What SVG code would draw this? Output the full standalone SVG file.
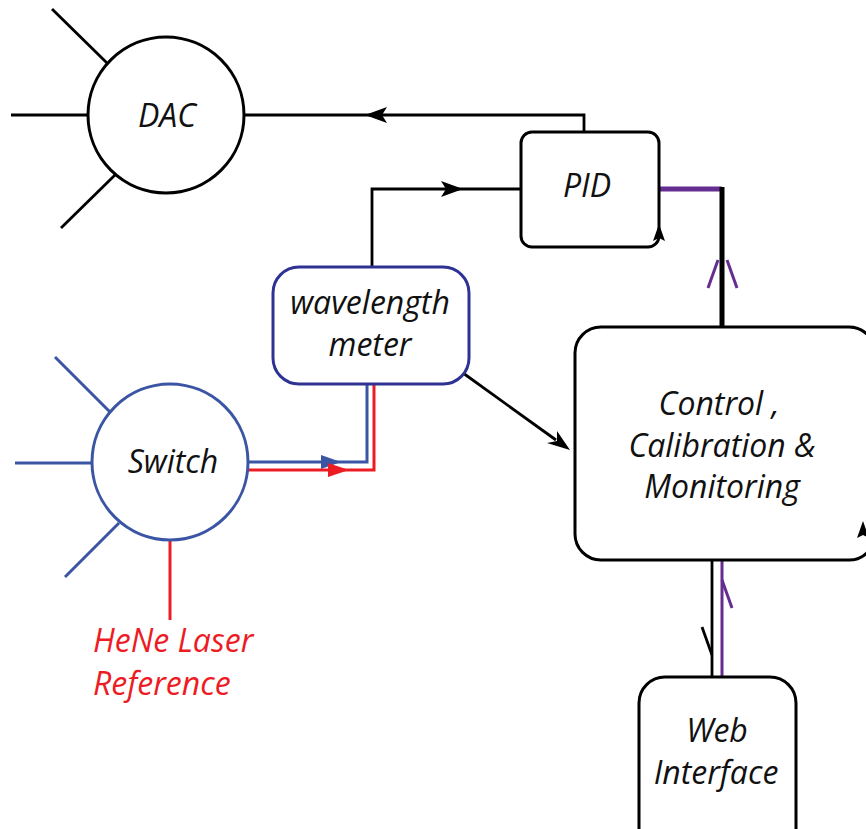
<svg xmlns="http://www.w3.org/2000/svg" width="866" height="829" viewBox="0 0 866 829">
  <style>
    .lbl { font-family: "Open Sans", "Liberation Sans", sans-serif; font-style: italic; font-size: 32px; fill: #111; text-anchor: middle; }
    .red { fill: #ed1c24; text-anchor: start; }
    .blk { fill: none; stroke: #000; stroke-width: 2.8; }
    .blu { fill: none; stroke: #3b55a5; stroke-width: 3; }
    .bluBox { fill: #fff; stroke: #2e3393; stroke-width: 3; }
    .rd { fill: none; stroke: #ed1c24; stroke-width: 3; }
    .pur { fill: none; stroke: #662d91; stroke-width: 3; }
    .box { fill: #fff; stroke: #000; stroke-width: 3; }
  </style>

  <!-- connectors -->
  <g id="connectors">
    <!-- PID to DAC -->
    <polyline class="blk" points="584,131 584,115 245,115"/>
    <path d="M365,115 L387,107 L382,115 L387,123 Z" fill="#000"/>
    <!-- wavelength meter to PID -->
    <polyline class="blk" points="372,268 372,189 521,189"/>
    <path d="M463,189 L441,181 L446,189 L441,197 Z" fill="#000"/>
    <!-- switch to wavelength meter (blue + red) -->
    <polyline class="blu" points="248,462 367,462 367,384"/>
    <path d="M341,462 L321,455 L321,469 Z" fill="#3b55a5"/>
    <polyline class="rd" points="248,470 374,470 374,384"/>
    <path d="M349,470 L328,463 L328,477 Z" fill="#ed1c24"/>
    <!-- HeNe reference feed -->
    <line class="rd" x1="170" y1="541" x2="170" y2="620"/>
    <!-- wavelength meter to control -->
    <line class="blk" x1="463" y1="373" x2="556" y2="440"/>
    <path d="M570,450 L547,443 L557,441 L557,431 Z" fill="#000"/>
    <!-- PID to control (purple + thick black) -->
    <line x1="659" y1="189" x2="722" y2="189" stroke="#662d91" stroke-width="5"/>
    <line x1="722" y1="187" x2="722" y2="327" stroke="#000" stroke-width="5"/>
    <polyline class="pur" points="708,288 718,260"/>
    <polyline class="pur" points="737,288 727,260"/>
    <!-- control to web interface -->
    <line class="blk" x1="712" y1="560" x2="712" y2="677"/>
    <line class="pur" x1="722" y1="560" x2="722" y2="677"/>
    <line class="blk" x1="702" y1="627" x2="712" y2="655"/>
    <line class="pur" x1="722" y1="580" x2="732" y2="608"/>
  </g>

  <!-- DAC node -->
  <g id="dac">
    <line class="blk" x1="52" y1="9" x2="107" y2="63"/>
    <line class="blk" x1="11" y1="115" x2="88" y2="115"/>
    <line class="blk" x1="61" y1="228" x2="115" y2="175"/>
    <circle cx="166" cy="115" r="78" class="box"/>
    <text class="lbl" x="167" y="127">DAC</text>
  </g>

  <!-- Switch node -->
  <g id="switch">
    <line class="blu" x1="55" y1="357" x2="110" y2="412"/>
    <line class="blu" x1="15" y1="463" x2="92" y2="463"/>
    <line class="blu" x1="65" y1="577" x2="119" y2="523"/>
    <circle cx="170" cy="462" r="78" fill="#fff" stroke="#3b55a5" stroke-width="3"/>
    <text class="lbl" x="173" y="473">Switch</text>
  </g>

  <!-- HeNe laser reference label -->
  <g id="hene">
    <text class="lbl red" x="93" y="652">HeNe Laser</text>
    <text class="lbl red" x="93" y="695">Reference</text>
  </g>

  <!-- wavelength meter node -->
  <g id="wavemeter">
    <rect x="273" y="267" width="196" height="117" rx="26" class="bluBox"/>
    <text class="lbl" x="370" y="314">wavelength</text>
    <text class="lbl" x="370" y="356">meter</text>
  </g>

  <!-- PID node -->
  <g id="pid">
    <rect x="521" y="132" width="138" height="115" rx="11" class="box"/>
    <text class="lbl" x="587" y="197">PID</text>
    <path d="M659,224 L665,241 L659,238 L653,241 Z" fill="#000"/>
  </g>

  <!-- control, calibration and monitoring node -->
  <g id="control">
    <rect x="575" y="327" width="300" height="233" rx="26" class="box"/>
    <text class="lbl" x="719" y="415">Control ,</text>
    <text class="lbl" x="722" y="457">Calibration &amp;</text>
    <text class="lbl" x="722" y="498">Monitoring</text>
    <path d="M863,521 L869,538 L863,535 L857,538 Z" fill="#000"/>
  </g>

  <!-- web interface node -->
  <g id="web">
    <rect x="639" y="677" width="157" height="180" rx="26" class="box"/>
    <text class="lbl" x="717" y="742">Web</text>
    <text class="lbl" x="716" y="784">Interface</text>
  </g>
</svg>
